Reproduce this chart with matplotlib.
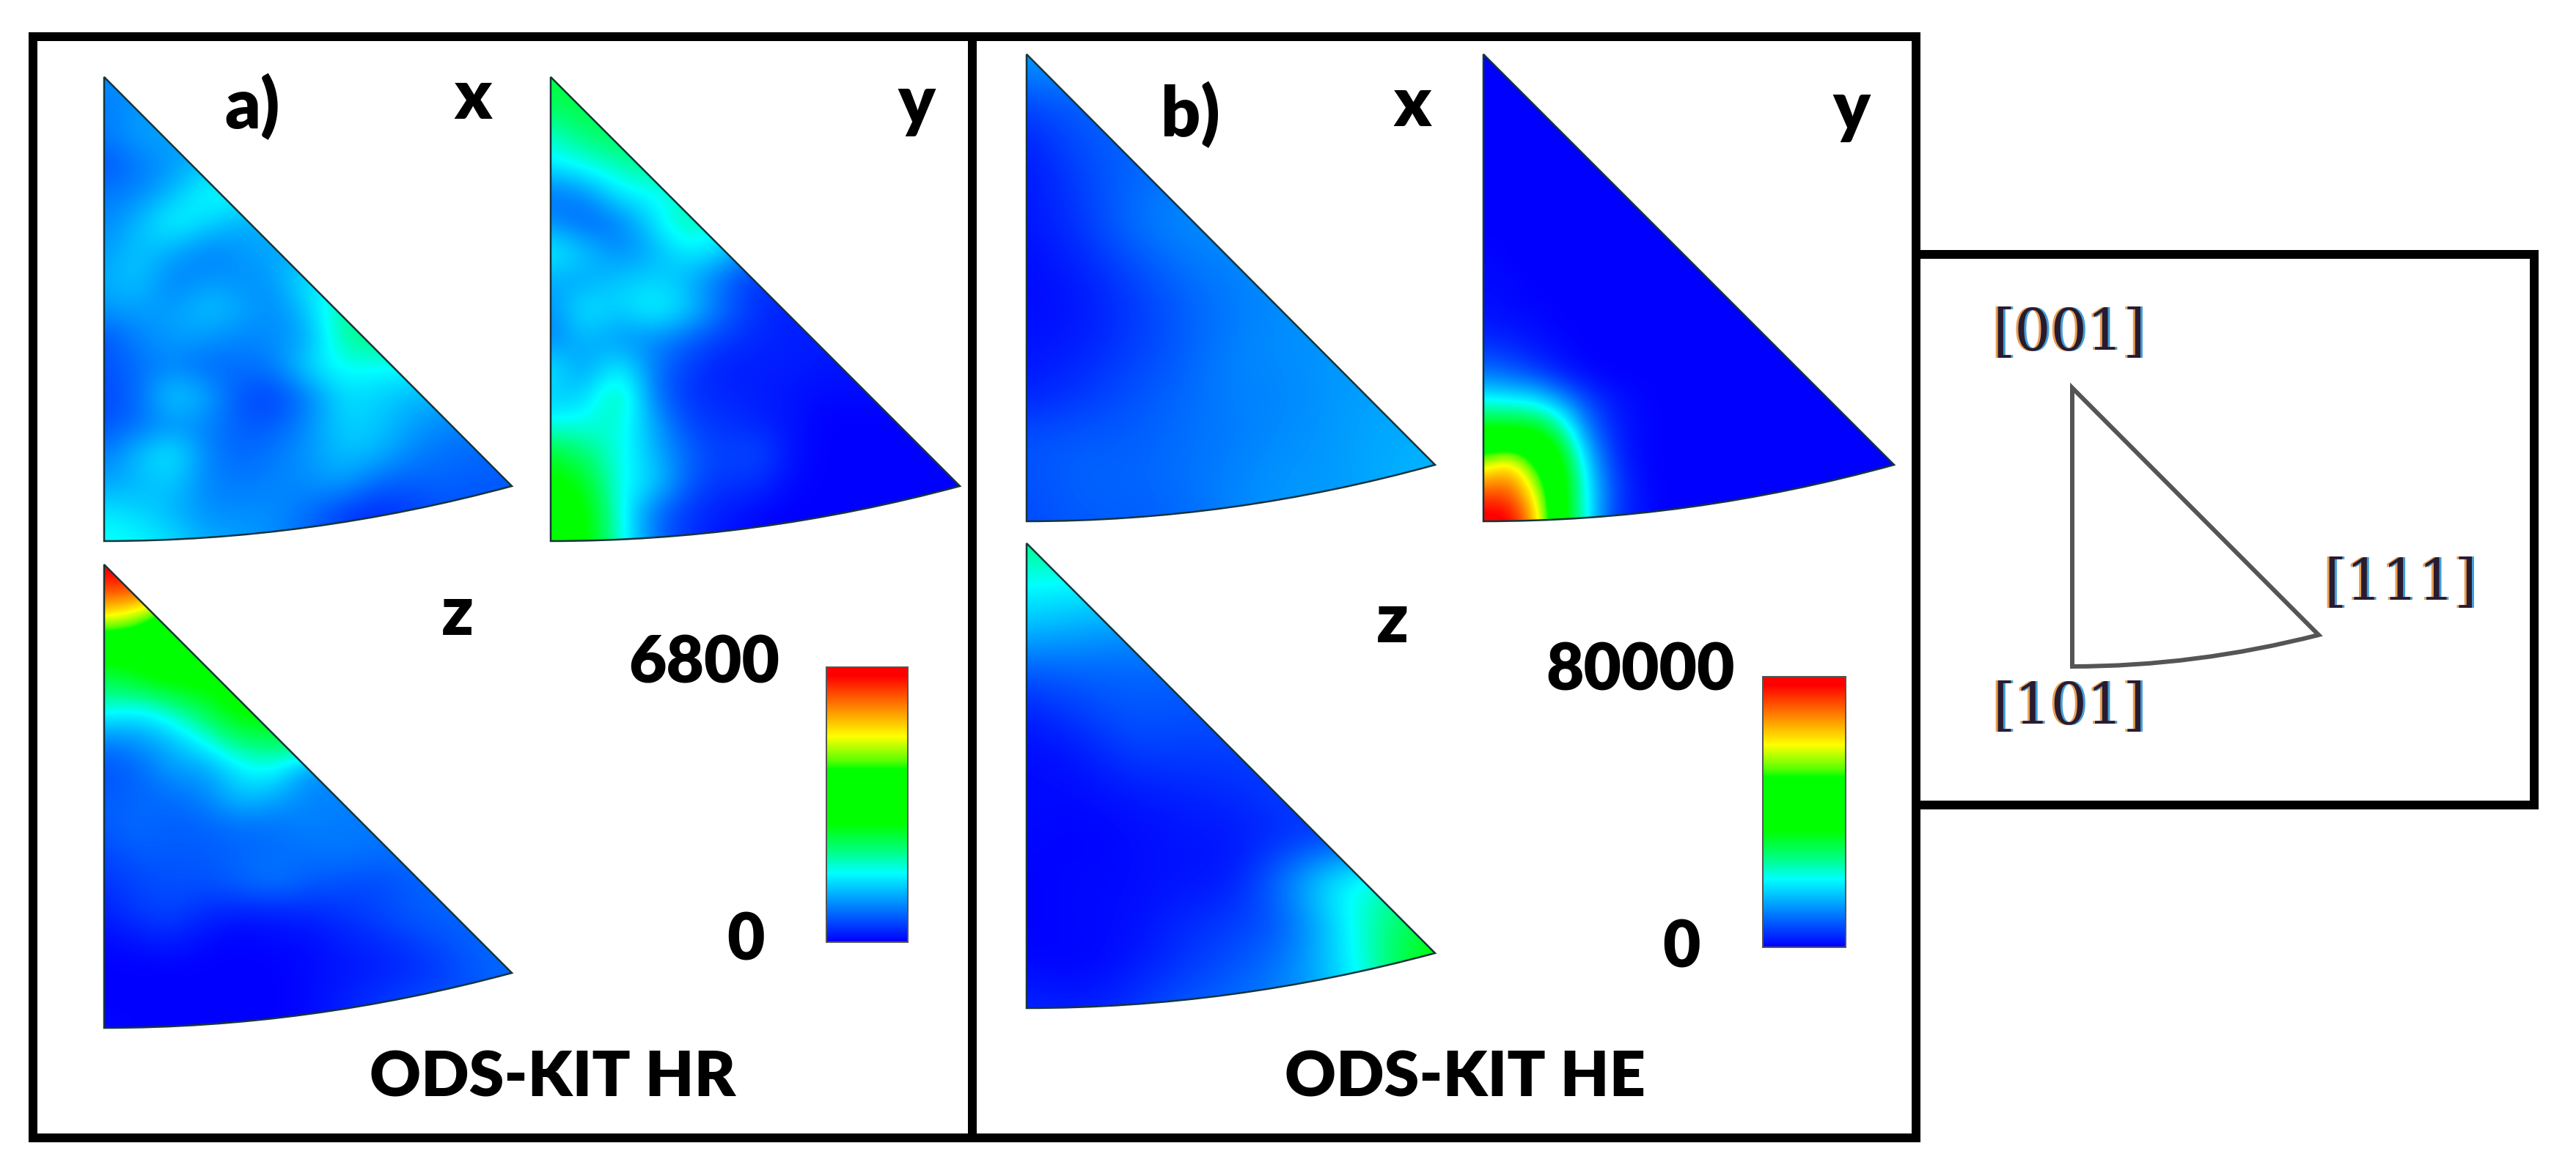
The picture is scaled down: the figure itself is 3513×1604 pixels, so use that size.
#!/usr/bin/env python3
# -*- coding: utf-8 -*-
import numpy as np
import matplotlib
matplotlib.use("Agg")
import matplotlib.pyplot as plt
import matplotlib.patches as patches
from matplotlib.path import Path
from matplotlib.colors import LinearSegmentedColormap

W, H = 3513, 1604

# intensities in percent of the colour bar, rows go top to bottom,
# columns left to right over the bounding box of each triangle
hr_x = [
    [14, 14, 14, 14, 14, 14, 14, 14, 14, 14, 14, 14, 14],
    [12, 15, 15, 15, 15, 15, 15, 15, 15, 15, 15, 15, 15],
    [12, 16, 16, 16, 16, 16, 16, 16, 16, 16, 16, 16, 16],
    [8, 12, 15, 19, 19, 19, 19, 19, 19, 19, 19, 19, 19],
    [12, 13, 18, 26, 26, 26, 26, 26, 26, 26, 26, 26, 26],
    [13, 18, 26, 22, 17, 17, 17, 17, 17, 17, 17, 17, 17],
    [15, 20, 17, 12, 15, 17, 17, 17, 17, 17, 17, 17, 17],
    [17, 20, 12, 15, 14, 15, 24, 24, 24, 24, 24, 24, 24],
    [15, 16, 15, 20, 17, 13, 20, 32, 32, 32, 32, 32, 32],
    [8, 13, 16, 15, 13, 14, 16, 31, 34, 34, 34, 34, 34],
    [8, 11, 13, 10, 11, 12, 22, 26, 25, 25, 25, 25, 25],
    [7, 10, 22, 17, 8, 6, 12, 22, 21, 18, 18, 18, 18],
    [8, 11, 14, 13, 9, 9, 14, 21, 20, 16, 13, 13, 13],
    [12, 19, 25, 13, 10, 12, 15, 19, 18, 13, 11, 10, 10],
    [16, 18, 20, 13, 12, 13, 14, 16, 10, 9, 10, 9, 9],
    [23, 21, 18, 14, 14, 14, 11, 6, 4, 6, 8, 8, 8],
    [26, 25, 22, 17, 16, 14, 10, 6, 4, 6, 8, 8, 8],
]
hr_y = [
    [38, 38, 38, 38, 38, 38, 38, 38, 38, 38, 38, 38, 38],
    [36, 38, 38, 38, 38, 38, 38, 38, 38, 38, 38, 38, 38],
    [28, 34, 36, 36, 36, 36, 36, 36, 36, 36, 36, 36, 36],
    [24, 27, 30, 33, 33, 33, 33, 33, 33, 33, 33, 33, 33],
    [11, 14, 24, 25, 28, 28, 28, 28, 28, 28, 28, 28, 28],
    [14, 9, 12, 22, 32, 25, 25, 25, 25, 25, 25, 25, 25],
    [25, 20, 13, 17, 24, 22, 12, 12, 12, 12, 12, 12, 12],
    [17, 16, 20, 21, 18, 10, 5, 5, 5, 5, 5, 5, 5],
    [14, 24, 20, 26, 21, 11, 5, 3, 3, 3, 3, 3, 3],
    [12, 19, 14, 14, 10, 6, 4, 3, 3, 3, 3, 3, 3],
    [24, 14, 25, 12, 6, 3, 3, 3, 2, 2, 2, 2, 2],
    [20, 20, 34, 12, 5, 4, 3, 2, 1, 1, 1, 1, 1],
    [26, 27, 28, 17, 7, 5, 4, 2, 0, 0, 0, 0, 0],
    [40, 34, 27, 18, 10, 6, 8, 2, 0, 0, 0, 0, 0],
    [45, 42, 25, 22, 9, 5, 5, 1, 0, 0, 0, 0, 0],
    [45, 46, 27, 11, 5, 3, 1, 0, 0, 0, 0, 0, 0],
    [46, 46, 28, 12, 5, 2, 0, 0, 0, 0, 0, 0, 0],
]
hr_z = [
    [100, 100, 100, 100, 100, 100, 100, 100, 100, 100, 100, 100, 100],
    [90, 88, 85, 85, 85, 85, 85, 85, 85, 85, 85, 85, 85],
    [72, 68, 46, 46, 46, 46, 46, 46, 46, 46, 46, 46, 46],
    [46, 46, 46, 46, 46, 46, 46, 46, 46, 46, 46, 46, 46],
    [36, 42, 46, 45, 46, 46, 46, 46, 46, 46, 46, 46, 46],
    [28, 24, 30, 38, 46, 46, 46, 46, 46, 46, 46, 46, 46],
    [13, 15, 19, 27, 36, 36, 43, 43, 43, 43, 43, 43, 43],
    [8, 10, 16, 16, 24, 27, 14, 14, 14, 14, 14, 14, 14],
    [9, 10, 11, 13, 20, 17, 13, 13, 13, 13, 13, 13, 13],
    [9, 11, 9, 10, 11, 11, 13, 12, 12, 12, 12, 12, 12],
    [7, 9, 9, 9, 10, 11, 11, 12, 11, 11, 11, 11, 11],
    [5, 7, 8, 8, 10, 12, 9, 8, 7, 9, 10, 10, 10],
    [3, 6, 7, 4, 3, 3, 4, 5, 7, 9, 10, 10, 10],
    [1, 2, 3, 1, 0, 1, 1, 3, 4, 6, 8, 10, 10],
    [0, 0, 0, 0, 0, 0, 1, 2, 3, 4, 6, 9, 11],
    [0, 0, 0, 0, 0, 0, 1, 3, 5, 7, 8, 9, 9],
    [1, 0, 0, 0, 0, 0, 1, 3, 5, 7, 8, 9, 9],
]
he_x = [
    [16, 16, 16, 16, 16, 16, 16, 16, 16],
    [8, 10, 10, 10, 10, 10, 10, 10, 10],
    [3, 8, 10, 10, 10, 10, 10, 10, 10],
    [2, 6, 10, 12, 12, 12, 12, 12, 12],
    [2, 5, 11, 14, 14, 14, 14, 14, 14],
    [1, 3, 7, 11, 13, 14, 14, 14, 14],
    [1, 2, 5, 9, 12, 14, 14, 14, 14],
    [2, 3, 6, 9, 13, 14, 15, 15, 15],
    [3, 5, 8, 10, 13, 13, 15, 16, 16],
    [8, 9, 9, 11, 12, 14, 15, 17, 17],
    [8, 10, 10, 11, 13, 15, 15, 17, 18],
    [7, 9, 9, 10, 13, 15, 15, 17, 19],
]
he_y = [
    [0, 0, 0, 0, 0, 0, 0, 0, 0, 0, 0, 0, 0, 0, 0, 0, 0],
    [0, 0, 0, 0, 0, 0, 0, 0, 0, 0, 0, 0, 0, 0, 0, 0, 0],
    [0, 0, 0, 0, 0, 0, 0, 0, 0, 0, 0, 0, 0, 0, 0, 0, 0],
    [0, 0, 0, 0, 0, 0, 0, 0, 0, 0, 0, 0, 0, 0, 0, 0, 0],
    [0, 0, 0, 0, 0, 0, 0, 0, 0, 0, 0, 0, 0, 0, 0, 0, 0],
    [0, 0, 0, 0, 0, 0, 0, 0, 0, 0, 0, 0, 0, 0, 0, 0, 0],
    [0, 0, 0, 0, 0, 0, 0, 0, 0, 0, 0, 0, 0, 0, 0, 0, 0],
    [1, 0, 0, 0, 0, 0, 0, 0, 0, 0, 0, 0, 0, 0, 0, 0, 0],
    [1, 1, 0, 0, 0, 0, 0, 0, 0, 0, 0, 0, 0, 0, 0, 0, 0],
    [2, 1, 1, 0, 0, 0, 0, 0, 0, 0, 0, 0, 0, 0, 0, 0, 0],
    [5, 4, 2, 1, 0, 0, 0, 0, 0, 0, 0, 0, 0, 0, 0, 0, 0],
    [12, 10, 7, 3, 1, 0, 0, 0, 0, 0, 0, 0, 0, 0, 0, 0, 0],
    [28, 27, 26, 18, 8, 3, 1, 0, 0, 0, 0, 0, 0, 0, 0, 0, 0],
    [46, 46, 46, 36, 14, 4, 1, 0, 0, 0, 0, 0, 0, 0, 0, 0, 0],
    [70, 80, 62, 46, 22, 6, 1, 0, 0, 0, 0, 0, 0, 0, 0, 0, 0],
    [90, 90, 75, 48, 25, 8, 2, 0, 0, 0, 0, 0, 0, 0, 0, 0, 0],
    [100, 100, 82, 47, 26, 6, 2, 0, 0, 0, 0, 0, 0, 0, 0, 0, 0],
]
he_z = [
    [33, 33, 33, 33, 33, 33, 33, 33, 33],
    [25, 24, 24, 24, 24, 24, 24, 24, 24],
    [19, 17, 15, 15, 15, 15, 15, 15, 15],
    [9, 10, 10, 10, 10, 10, 10, 10, 10],
    [3, 6, 9, 8, 8, 8, 8, 8, 8],
    [1, 2, 6, 6, 6, 6, 6, 6, 6],
    [1, 1, 2, 3, 4, 6, 6, 6, 6],
    [1, 0, 1, 2, 2, 4, 6, 6, 6],
    [0, 1, 1, 2, 2, 12, 25, 30, 30],
    [0, 1, 1, 4, 6, 8, 20, 33, 40],
    [1, 0, 2, 5, 8, 12, 20, 33, 45],
    [4, 3, 5, 9, 11, 13, 17, 27, 45],
]

cbar_labels_a = ["6800", "0"]
cbar_labels_b = ["80000", "0"]
panel_labels = ["a)", "b)"]
axis_labels = ["x", "y", "z"]
titles = ["ODS-KIT HR", "ODS-KIT HE"]
key_labels = ["[001]", "[111]", "[101]"]

cmap = LinearSegmentedColormap.from_list("ipf", [
    (0.0, (0, 0, 1)), (0.25, (0, 1, 1)), (0.33, (0, 1, 0.5)), (0.43, (0, 1, 0)),
    (0.63, (0, 1, 0)), (0.66, (0.35, 1, 0)), (0.75, (1, 1, 0)), (0.97, (1, 0, 0)),
    (1.0, (1, 0, 0))], N=512)

BOLD = ["Lato", "Liberation Sans"]


def px(v):
    return v * 72.0 / 100.0


def sector(left, right, top, corner, bottom):
    # triangle with the curved lower edge
    verts = [(left, top), (left, bottom), (left + 0.5 * (right - left), bottom),
             (right, corner), (left, top)]
    codes = [Path.MOVETO, Path.LINETO, Path.CURVE3, Path.CURVE3, Path.CLOSEPOLY]
    return Path(verts, codes)


def plot_sector(ax, values, left, right, top, corner, bottom):
    values = np.array(values, dtype=float)
    dx = (right - left) / (values.shape[1] - 1) / 2.0
    dy = (bottom - top) / (values.shape[0] - 1) / 2.0
    im = ax.imshow(values, cmap=cmap, vmin=0, vmax=100, aspect="auto",
                   interpolation="bicubic", interpolation_stage="data",
                   extent=(left - dx, right + dx, bottom + dy, top - dy), zorder=2)
    outline = patches.PathPatch(sector(left, right, top, corner, bottom), fc="none",
                                ec="#17343a", lw=px(2.5), zorder=3)
    ax.add_patch(outline)
    im.set_clip_path(outline)


def plot_cbar(ax, x0, x1, y0, y1):
    ramp = np.linspace(100, 0, 256).reshape(-1, 1)
    ax.imshow(ramp, cmap=cmap, vmin=0, vmax=100, aspect="auto",
              extent=(x0, x1, y1, y0), zorder=2)
    ax.add_patch(patches.Rectangle((x0, y0), x1 - x0, y1 - y0, fc="none", ec="#555555",
                                   lw=px(2), zorder=3))


def label(ax, x, y, s, size, family=BOLD, weight="heavy", color="black"):
    ax.text(x, y, s, fontsize=size, family=family, weight=weight, color=color,
            ha="center", va="center", zorder=4)


def key_label(ax, x, y, s):
    # the key was a screenshot, so its text has coloured fringes
    ax.text(x - 3, y, s, fontsize=56, family="DejaVu Serif", color="#e8a050",
            ha="center", va="center", zorder=3)
    ax.text(x + 3, y, s, fontsize=56, family="DejaVu Serif", color="#40a0d8",
            ha="center", va="center", zorder=3)
    ax.text(x, y, s, fontsize=56, family="DejaVu Serif", color="#2a1a30",
            ha="center", va="center", zorder=4)


fig = plt.figure(figsize=(W / 100.0, H / 100.0), dpi=100)
ax = fig.add_axes([0, 0, 1, 1])

# frames
for x0, y0, x1, y1 in [(45, 50, 1326, 1552), (1326, 50, 2613, 1552), (2613, 347, 3456, 1098)]:
    ax.add_patch(patches.Rectangle((x0, y0), x1 - x0, y1 - y0, fc="none", ec="black",
                                   lw=px(12), joinstyle="miter", zorder=5))

# panel a
plot_sector(ax, hr_x, 142, 698, 105, 663, 738)
plot_sector(ax, hr_y, 751, 1309, 105, 663, 738)
plot_sector(ax, hr_z, 142, 698, 770, 1327, 1402)
plot_cbar(ax, 1127, 1238, 910, 1285)

# panel b
plot_sector(ax, he_x, 1400, 1957, 74, 634, 711)
plot_sector(ax, he_y, 2023, 2583, 74, 634, 711)
plot_sector(ax, he_z, 1400, 1957, 741, 1300, 1375)
plot_cbar(ax, 2404, 2517, 923, 1292)

label(ax, 344, 146, panel_labels[0], 68)
label(ax, 645, 135, axis_labels[0], 68)
label(ax, 1250, 142, axis_labels[1], 68)
label(ax, 624, 838, axis_labels[2], 68)
label(ax, 960, 905, cbar_labels_a[0], 64)
label(ax, 1017, 1283, cbar_labels_a[1], 64)
label(ax, 754, 1470, titles[0], 62)

label(ax, 1623, 157, panel_labels[1], 68)
label(ax, 1926, 145, axis_labels[0], 68)
label(ax, 2525, 151, axis_labels[1], 68)
label(ax, 1899, 848, axis_labels[2], 68)
label(ax, 2237, 916, cbar_labels_b[0], 64)
label(ax, 2293, 1294, cbar_labels_b[1], 64)
label(ax, 1998, 1471, titles[1], 62)

# orientation key
ax.add_patch(patches.PathPatch(sector(2826, 3162, 529, 866, 909), fc="none", ec="#555555",
                               lw=px(6), zorder=3))
key_label(ax, 2822, 456, key_labels[0])
key_label(ax, 3274, 797, key_labels[1])
key_label(ax, 2822, 966, key_labels[2])

ax.set_xlim(0, W)
ax.set_ylim(H, 0)
ax.axis("off")

plt.savefig("out.png", dpi=100, facecolor="white")
plt.close()
